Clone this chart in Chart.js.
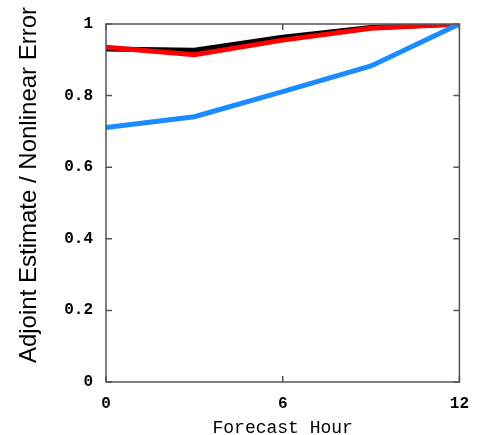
<!DOCTYPE html>
<html>
<head>
<meta charset="utf-8">
<script src="https://cdn.jsdelivr.net/npm/chart.js@4/dist/chart.umd.min.js"></script>
<style>
  html, body { margin: 0; padding: 0; background: #fff; }
  #wrap { width: 481px; height: 435px; }
</style>
</head>
<body>
<div id="wrap"><canvas id="myChart" width="481" height="435"></canvas></div>
<script>
// forecast hours and ratio values
const hours = [0, 3, 6, 9, 12];
const blackSeries = [0.930, 0.927, 0.963, 0.990, 1.0];
const redSeries = [0.935, 0.914, 0.955, 0.988, 1.0];
const blueSeries = [0.711, 0.741, 0.811, 0.883, 1.0];
const xTicks = [0, 6, 12];
const yTicks = [0, 0.2, 0.4, 0.6, 0.8, 1];
const yTitle = 'Adjoint Estimate / Nonlinear Error';

const monoFont = "'Liberation Mono', 'DejaVu Sans Mono', monospace";
const frameColor = '#555';

function toPoints(values) {
    return hours.map((h, i) => ({ x: h, y: values[i] }));
}

// frame, inward ticks on all four sides, and the y title (sits above centre in the original)
const framePlugin = {
    id: 'frame',
    afterDatasetsDraw(chart) {
        const ctx = chart.ctx;
        const area = chart.chartArea;
        const xs = chart.scales.x;
        const ys = chart.scales.y;
        const len = 6;
        ctx.save();
        ctx.strokeStyle = frameColor;
        ctx.lineWidth = 1.5;
        ctx.strokeRect(area.left, area.top, area.right - area.left, area.bottom - area.top);
        ctx.beginPath();
        xTicks.forEach(v => {
            const px = xs.getPixelForValue(v);
            ctx.moveTo(px, area.bottom);
            ctx.lineTo(px, area.bottom - len);
            ctx.moveTo(px, area.top);
            ctx.lineTo(px, area.top + len);
        });
        yTicks.forEach(v => {
            const py = ys.getPixelForValue(v);
            ctx.moveTo(area.left, py);
            ctx.lineTo(area.left + len, py);
            ctx.moveTo(area.right, py);
            ctx.lineTo(area.right - len, py);
        });
        ctx.stroke();

        ctx.translate(29, 185);
        ctx.rotate(-Math.PI / 2);
        ctx.fillStyle = '#000';
        ctx.font = "24px 'Liberation Sans', Arial, sans-serif";
        ctx.textAlign = 'center';
        ctx.textBaseline = 'middle';
        ctx.fillText(yTitle, 0, 0);
        ctx.restore();
    }
};

new Chart(document.getElementById('myChart'), {
    type: 'line',
    data: {
        datasets: [
            { data: toPoints(blueSeries), borderColor: '#1a8cff', borderWidth: 5 },
            { data: toPoints(redSeries), borderColor: '#ff0000', borderWidth: 5 },
            { data: toPoints(blackSeries), borderColor: '#000000', borderWidth: 5 }
        ]
    },
    options: {
        responsive: false,
        animation: false,
        devicePixelRatio: 1,
        layout: { padding: { left: 8, right: 18, top: 24, bottom: 0 } },
        elements: { point: { radius: 0 }, line: { tension: 0, borderCapStyle: 'butt' } },
        plugins: { legend: { display: false }, tooltip: { enabled: false } },
        scales: {
            x: {
                type: 'linear',
                min: 0,
                max: 12,
                afterBuildTicks: s => { s.ticks = xTicks.map(v => ({ value: v })); },
                afterFit: s => { s.height = 53; },
                grid: { display: false, drawTicks: false },
                border: { display: false },
                ticks: {
                    padding: 12,
                    color: '#000',
                    font: { family: monoFont, size: 16, weight: 'bold' }
                },
                title: {
                    display: true,
                    text: 'Forecast Hour',
                    color: '#000',
                    padding: { top: 4, bottom: -2 },
                    font: { family: monoFont, size: 18, lineHeight: 1 }
                }
            },
            y: {
                min: 0,
                max: 1,
                afterBuildTicks: s => { s.ticks = yTicks.map(v => ({ value: v })); },
                afterFit: s => { s.width = 98; },
                grid: { display: false, drawTicks: false },
                border: { display: false },
                ticks: {
                    padding: 13,
                    color: '#000',
                    font: { family: monoFont, size: 16, weight: 'bold' },
                    callback: v => String(v)
                }
            }
        }
    },
    plugins: [framePlugin]
});
</script>
</body>
</html>
